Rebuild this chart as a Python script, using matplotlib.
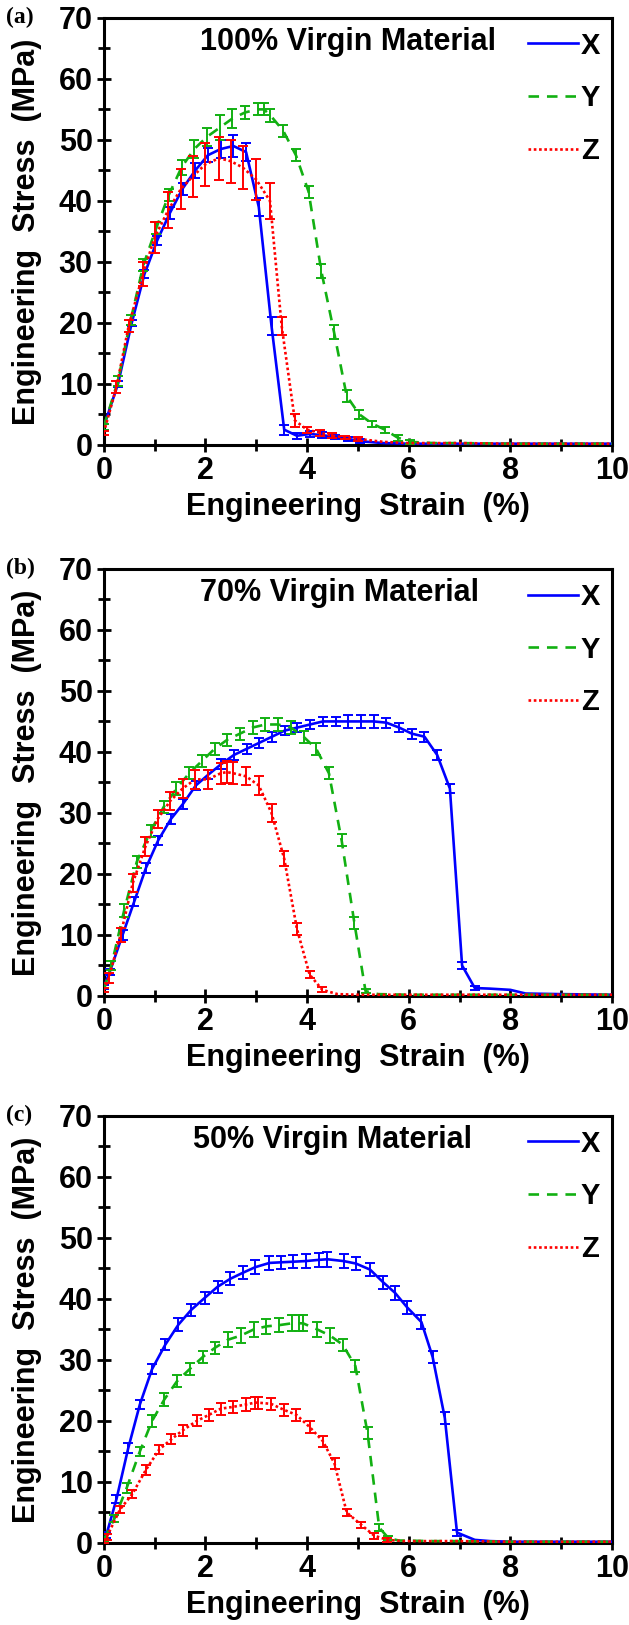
import numpy as np
import matplotlib
matplotlib.use('Agg')
import matplotlib.pyplot as plt

plt.rcParams['font.family'] = ['Liberation Sans', 'DejaVu Sans']
plt.rcParams['font.weight'] = 'bold'

# ---- panel (a) 100% virgin ----
a_x_X = [0, 0.28, 0.55, 0.8, 1.05, 1.3, 1.55, 1.8, 2.05, 2.3, 2.55, 2.8, 3.05, 3.3, 3.55, 3.8, 4.05, 4.3, 4.55, 4.8, 5.05, 5.5, 6, 7, 8, 9, 10]
a_y_X = [3, 10, 20, 28, 33.5, 38, 42, 45, 47.5, 48.5, 49, 48, 39, 19.5, 2.5, 1.5, 1.8, 1.6, 1.3, 1.0, 0.6, 0.3, 0.2, 0.2, 0.2, 0.2, 0.2]
a_e_X = [0.5, 0.5, 0.5, 0.7, 0.8, 1, 1, 1.2, 1.2, 1.5, 1.8, 1.5, 1.5, 1.5, 0.8, 0.5, 0.5, 0.5, 0.4, 0.3, 0.3, 0, 0, 0, 0, 0, 0]

a_x_Y = [0, 0.28, 0.53, 0.78, 1.03, 1.28, 1.53, 1.78, 2.03, 2.28, 2.53, 2.78, 3.03, 3.15, 3.28, 3.53, 3.78, 4.03, 4.28, 4.53, 4.78, 5.03, 5.28, 5.53, 5.78, 6.03, 6.5, 7, 8, 9, 10]
a_y_Y = [3, 10.5, 20.5, 29.5, 35.5, 41, 45.5, 48.5, 50.5, 52, 53.5, 54.5, 55, 55, 54, 51.5, 47.5, 41.5, 28.5, 18.5, 8, 5, 3.5, 2.5, 1.2, 0.5, 0.3, 0.3, 0.2, 0.2, 0.2]
a_e_Y = [0.5, 0.8, 0.8, 1, 1, 1, 1.2, 1.5, 1.5, 2, 1.5, 1, 1, 1, 1, 1, 1, 1, 1.2, 1.2, 1, 0.8, 0.5, 0.5, 0.5, 0.3, 0, 0, 0, 0, 0]

a_x_Z = [0, 0.25, 0.49, 0.77, 1.0, 1.27, 1.52, 1.75, 2.0, 2.27, 2.5, 2.73, 3.0, 3.27, 3.5, 3.76, 4.0, 4.25, 4.5, 4.75, 5.0, 5.5, 6, 7, 8, 9, 10]
a_y_Z = [2, 9.5, 19.5, 28, 34, 38.5, 42, 44, 46, 47, 46.5, 45.5, 43.5, 40, 19.5, 4, 2.5, 2, 1.5, 1.2, 1, 0.5, 0.3, 0.3, 0.2, 0.2, 0.2]
a_e_Z = [0.3, 1, 1, 2, 2.5, 3, 3.3, 3.3, 3.5, 3.5, 3.5, 3.5, 3.3, 3, 1.5, 1, 0.5, 0.5, 0.4, 0.3, 0.3, 0, 0, 0, 0, 0, 0]

# ---- panel (b) 70% virgin ----
b_x_X = [0, 0.12, 0.37, 0.6, 0.83, 1.07, 1.32, 1.56, 1.81, 2.06, 2.31, 2.56, 2.81, 3.06, 3.31, 3.56, 3.81, 4.06, 4.31, 4.56, 4.81, 5.06, 5.31, 5.56, 5.81, 6.06, 6.31, 6.56, 6.81, 7.05, 7.3, 7.6, 8.0, 8.3, 9, 10]
b_y_X = [1.5, 4, 10, 15.5, 21, 25.5, 29, 31.5, 34.5, 36.3, 38, 39.5, 40.5, 41.5, 42.5, 43.5, 44, 44.5, 45, 45, 45, 45, 45, 44.8, 44, 43, 42.5, 39.5, 34, 5, 1.3, 1.2, 1, 0.4, 0.3, 0.2]
b_e_X = [0.3, 0.5, 0.8, 0.8, 0.8, 0.8, 0.8, 0.8, 0.8, 0.8, 0.8, 0.8, 0.8, 0.8, 0.8, 0.8, 0.8, 0.8, 0.8, 0.8, 1, 1, 1, 0.8, 0.8, 0.8, 0.8, 0.8, 0.8, 0.5, 0.3, 0, 0, 0, 0, 0]

b_x_Y = [0, 0.15, 0.4, 0.65, 0.92, 1.18, 1.43, 1.68, 1.93, 2.18, 2.43, 2.68, 2.93, 3.18, 3.43, 3.68, 3.93, 4.18, 4.43, 4.68, 4.93, 5.15, 5.4, 6, 7, 8, 9, 10]
b_y_Y = [1, 5, 14, 22, 27, 31, 34, 36.5, 38.5, 40.5, 42, 43, 44, 44.5, 44.5, 44, 42.5, 40.5, 36.5, 25.5, 12, 0.8, 0.3, 0.2, 0.2, 0.2, 0.2, 0.2]
b_e_Y = [0.3, 0.8, 1, 1, 1, 1, 1, 1, 1, 1, 1, 1, 1, 1, 1, 1, 1, 1, 1, 1, 1, 0.3, 0, 0, 0, 0, 0, 0]

b_x_Z = [0, 0.1, 0.33, 0.57, 0.82, 1.06, 1.31, 1.55, 1.8, 2.05, 2.3, 2.42, 2.55, 2.8, 3.05, 3.3, 3.55, 3.8, 4.05, 4.3, 4.6, 5, 6, 7, 8, 9, 10]
b_y_Z = [1, 3, 10, 18.5, 24.5, 29, 32, 34, 35.5, 35.5, 36.5, 36.7, 36.5, 36, 34.5, 30, 22.5, 11, 3.5, 1, 0.3, 0.2, 0.2, 0.2, 0.2, 0.2, 0.2]
b_e_Z = [0.3, 0.8, 1.2, 1.5, 1.5, 1.5, 1.5, 1.5, 1.5, 1.5, 1.7, 1.8, 1.8, 1.5, 1.5, 1.5, 1.2, 1, 0.6, 0.4, 0, 0, 0, 0, 0, 0, 0]

# ---- panel (c) 50% virgin ----
c_x_X = [0, 0.05, 0.25, 0.48, 0.71, 0.95, 1.21, 1.47, 1.72, 1.99, 2.24, 2.49, 2.74, 2.98, 3.26, 3.49, 3.73, 3.97, 4.23, 4.4, 4.72, 4.96, 5.24, 5.5, 5.73, 5.97, 6.25, 6.47, 6.71, 6.95, 7.3, 7.6, 8, 9, 10]
c_y_X = [0.3, 1.3, 7.2, 15.5, 22.7, 28.5, 32.5, 35.8, 38.2, 40.2, 42, 43.3, 44.3, 45.2, 45.9, 46, 46.1, 46.2, 46.4, 46.5, 46.2, 45.8, 44.8, 42.7, 41, 38.6, 36.2, 30.5, 20.5, 1.7, 0.5, 0.3, 0.2, 0.2, 0.2]
c_e_X = [0.3, 0.5, 0.6, 0.8, 0.8, 0.8, 0.9, 1, 1, 1, 1, 1.1, 1.1, 1.1, 1.1, 1.1, 1.1, 1.1, 1.2, 1.2, 1.1, 1.1, 1.1, 1.1, 1.1, 1.1, 1.1, 1, 1, 0.5, 0, 0, 0, 0, 0]

c_x_Y = [0, 0.21, 0.45, 0.71, 0.95, 1.19, 1.44, 1.69, 1.95, 2.19, 2.44, 2.7, 2.95, 3.2, 3.45, 3.7, 3.85, 3.92, 4.2, 4.45, 4.7, 4.95, 5.19, 5.42, 5.6, 5.8, 6.5, 7, 8, 9, 10]
c_y_Y = [0.5, 4, 9, 15, 20, 23.5, 26.5, 28.5, 30.5, 32, 33.3, 34, 35, 35.5, 35.7, 36, 36, 36, 35, 34, 32.5, 29, 18, 2.5, 0.8, 0.4, 0.3, 0.3, 0.2, 0.2, 0.2]
c_e_Y = [0.3, 0.6, 0.8, 0.8, 1, 1, 1, 1, 1, 1, 1.2, 1.2, 1.2, 1.2, 1.2, 1.3, 1.3, 1.3, 1.2, 1.2, 1, 1, 1, 0.6, 0.3, 0, 0, 0, 0, 0, 0]

c_x_Z = [0, 0.06, 0.32, 0.56, 0.83, 1.09, 1.33, 1.56, 1.83, 2.07, 2.3, 2.54, 2.8, 2.98, 3.03, 3.29, 3.55, 3.79, 4.05, 4.31, 4.54, 4.78, 5.06, 5.32, 5.58, 5.9, 6.5, 7, 8, 9, 10]
c_y_Z = [0.3, 1, 5.5, 8, 12, 15.3, 17, 18.5, 20, 21, 22, 22.3, 22.7, 23, 23, 22.8, 21.8, 21, 19, 16.7, 13, 5, 3, 1.2, 0.5, 0.3, 0.3, 0.3, 0.2, 0.2, 0.2]
c_e_Z = [0.3, 0.5, 0.6, 0.6, 0.8, 0.8, 0.8, 0.9, 0.9, 1, 1, 1, 1, 1, 1, 1, 1, 1, 1, 0.9, 0.9, 0.6, 0.5, 0.5, 0.3, 0, 0, 0, 0, 0, 0]

titles = ['100% Virgin Material', '70% Virgin Material', '50% Virgin Material']
tags = ['(a)', '(b)', '(c)']
names = ['X', 'Y', 'Z']
colors = ['#0000ff', '#12b012', '#ff0000']
styles = ['-', (0, (4, 3)), (0, (1, 1))]

panels = [
    [(a_x_X, a_y_X, a_e_X), (a_x_Y, a_y_Y, a_e_Y), (a_x_Z, a_y_Z, a_e_Z)],
    [(b_x_X, b_y_X, b_e_X), (b_x_Y, b_y_Y, b_e_Y), (b_x_Z, b_y_Z, b_e_Z)],
    [(c_x_X, c_y_X, c_e_X), (c_x_Y, c_y_Y, c_e_Y), (c_x_Z, c_y_Z, c_e_Z)],
]

fig = plt.figure(figsize=(6.29, 16.25), dpi=100)
bottoms = [0.7262, 0.3871, 0.0505]
title_x = [0.19, 0.19, 0.175]

for k in range(3):
    ax = fig.add_axes([0.165, bottoms[k], 0.808, 0.2628])
    handles = []
    for (xs, ys, es), nm, col, ls in zip(panels[k], names, colors, styles):
        xs = np.array(xs); ys = np.array(ys); es = np.array(es)
        ln, = ax.plot(xs, ys, color=col, linestyle=ls, lw=1.9, label=nm, zorder=3)
        m = es > 0
        ax.errorbar(xs[m], ys[m], yerr=es[m], fmt='none', ecolor=col,
                    elinewidth=1.4, capsize=3.5, capthick=1.4, zorder=3)
        handles.append(ln)

    ax.set_xlim(0, 10)
    ax.set_ylim(0, 70)
    ax.set_xticks(range(0, 11, 2))
    ax.set_xticks(range(1, 10, 2), minor=True)
    ax.set_yticks(range(0, 71, 10))
    ax.set_yticks(range(5, 70, 10), minor=True)
    ax.tick_params(which='both', direction='inout', width=2, top=False, right=False,
                   labelsize=22, pad=3)
    ax.tick_params(which='major', length=10)
    ax.tick_params(which='minor', length=8)
    for sp in ax.spines.values():
        sp.set_linewidth(2.2)
    for lab in ax.get_xticklabels() + ax.get_yticklabels():
        lab.set_fontweight('bold')

    ax.set_xlabel('Engineering  Strain  (%)', fontsize=22, fontweight='bold', labelpad=4)
    ax.set_ylabel('Engineering  Stress  (MPa)', fontsize=22, fontweight='bold', labelpad=12)

    ax.text(title_x[k], 66 / 70, titles[k], transform=ax.transAxes,
            fontsize=22, fontweight='bold', va='center', ha='left')

    ax.legend(handles=handles, loc='upper right', bbox_to_anchor=(1.0, 0.995), frameon=False,
              fontsize=21, handlelength=1.7, handletextpad=0.1, labelspacing=0.85,
              borderaxespad=0.2, borderpad=0.2)

    fig.text(0.01, bottoms[k] + 0.2628, tags[k], family='Liberation Serif',
             fontsize=17, fontweight='bold', va='center', ha='left')

fig.savefig('out.png', dpi=100)
